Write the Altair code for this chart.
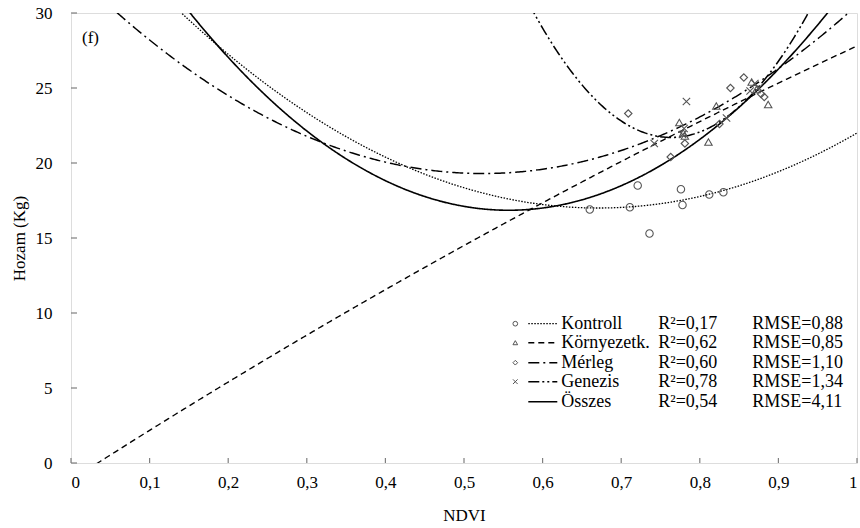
import altair as alt
import pandas as pd
import numpy as np

# ---------------- data ----------------
series = ["Kontroll", "Környezetk.", "Mérleg", "Genezis", "Összes"]
r2_labels = ["R²=0,17", "R²=0,62", "R²=0,60", "R²=0,78", "R²=0,54"]
rmse_labels = ["RMSE=0,88", "RMSE=0,85", "RMSE=1,10", "RMSE=1,34", "RMSE=4,11"]

# fitted quadratic trend lines: Hozam = c0 + c1*NDVI + c2*NDVI^2
coef_c0 = [37.80, -1.137, 32.89, 180.61, 41.67]
coef_c1 = [-62.00, 33.60, -51.876, -416.26, -89.12]
coef_c2 = [46.2, -4.66, 49.5, 272.6, 80.0]

kontroll_ndvi = [0.660, 0.711, 0.721, 0.736, 0.776, 0.778, 0.812, 0.830]
kontroll_hozam = [16.9, 17.05, 18.5, 15.3, 18.25, 17.2, 17.9, 18.05]

kornyezetk_ndvi = [0.774, 0.779, 0.781, 0.811, 0.821, 0.866, 0.872, 0.887]
kornyezetk_hozam = [22.7, 22.0, 21.8, 21.4, 23.8, 25.4, 24.9, 23.9]

merleg_ndvi = [0.709, 0.763, 0.781, 0.825, 0.839, 0.856, 0.878, 0.882]
merleg_hozam = [23.3, 20.4, 21.3, 22.6, 25.0, 25.7, 24.6, 24.4]

genezis_ndvi = [0.742, 0.778, 0.780, 0.783, 0.834, 0.864, 0.870, 0.875]
genezis_hozam = [21.3, 21.9, 22.3, 24.1, 23.0, 24.8, 25.3, 25.0]

x_ticks = [0, 0.1, 0.2, 0.3, 0.4, 0.5, 0.6, 0.7, 0.8, 0.9, 1]
y_ticks = [0, 5, 10, 15, 20, 25, 30]
panel_label = "(f)"

# ---------------- tables ----------------
grid = np.linspace(0, 1, 501)
curve_rows = []
for s, c0, c1, c2 in zip(series, coef_c0, coef_c1, coef_c2):
    for g in grid:
        curve_rows.append({"series": s, "ndvi": g, "hozam": c0 + c1 * g + c2 * g * g})
curves = pd.DataFrame(curve_rows)

pts = pd.concat([
    pd.DataFrame({"series": "Kontroll", "ndvi": kontroll_ndvi, "hozam": kontroll_hozam}),
    pd.DataFrame({"series": "Környezetk.", "ndvi": kornyezetk_ndvi, "hozam": kornyezetk_hozam}),
    pd.DataFrame({"series": "Mérleg", "ndvi": merleg_ndvi, "hozam": merleg_hozam}),
    pd.DataFrame({"series": "Genezis", "ndvi": genezis_ndvi, "hozam": genezis_hozam}),
], ignore_index=True)

# ---------------- layout ----------------
W, H = 786, 450
FONT = "'Liberation Serif', 'Times New Roman', 'DejaVu Serif', serif"
def px_x(px):
    return (px - 70.7) / W
def px_y(py):
    return (463.3 - py) / (H / 30.0)

leg_rows_px = [324, 343, 363, 382, 402]
leg = pd.DataFrame({
    "series": series,
    "r2": r2_labels,
    "rmse": rmse_labels,
})
leg["y"] = [px_y(p) for p in leg_rows_px]
leg["xm"] = px_x(515)
leg["x1"] = px_x(528)
leg["x2"] = px_x(557)
leg["xn"] = px_x(561)
leg["xr"] = px_x(658)
leg["xe"] = px_x(752)
leg_marks = leg[leg["series"] != "Összes"]

dash_scale = alt.Scale(domain=series,
                       range=[[1.5, 1.5], [6, 4], [11, 4, 2, 4], [11, 3, 2, 3, 2, 3], [1, 0]])
width_scale = alt.Scale(domain=series, range=[1.3, 1.6, 1.6, 1.6, 1.7])
leg_width_scale = alt.Scale(domain=series, range=[1.3, 2.2, 2.2, 2.2, 2.6])
shape_scale = alt.Scale(domain=series[:4],
                        range=["circle", "triangle-up", "diamond", "M-1,-1L1,1M-1,1L1,-1"])

xs = alt.Scale(domain=[0, 1], nice=False, zero=False)
ys = alt.Scale(domain=[0, 30], nice=False, zero=False)

x_axis = alt.Axis(values=x_ticks, ticks=False, domain=False, grid=False,
                  labelExpr="replace(format(datum.value, '.1~f'), '.', ',')",
                  labelPadding=11, labelFontSize=17, labelFont=FONT, labelColor="black",
                  title="NDVI", titleFont=FONT, titleFontSize=17, titleFontWeight="normal",
                  titleColor="black", titleY=52, titleBaseline="middle")
y_axis = alt.Axis(values=y_ticks, ticks=False, domain=False, grid=False,
                  labelPadding=19, labelFontSize=17, labelFont=FONT, labelColor="black",
                  title="Hozam (Kg)", titleFont=FONT, titleFontSize=17, titleFontWeight="normal",
                  titleColor="black", titleX=-52, titleY=H / 2, titleBaseline="middle",
                  titleAlign="center")

lines = alt.Chart(curves).mark_line(clip=True, color="black").encode(
    x=alt.X("ndvi:Q", scale=xs, axis=x_axis),
    y=alt.Y("hozam:Q", scale=ys, axis=y_axis),
    strokeDash=alt.StrokeDash("series:N", scale=dash_scale, legend=None),
    strokeWidth=alt.StrokeWidth("series:N", scale=width_scale, legend=None),
    detail="series:N",
)

points = alt.Chart(pts).mark_point(filled=False, color="#555555", size=55, strokeWidth=1.1,
                                   opacity=1).encode(
    x="ndvi:Q",
    y="hozam:Q",
    shape=alt.Shape("series:N", scale=shape_scale, legend=None),
)

xtick_df = pd.DataFrame({"v": x_ticks})
ytick_df = pd.DataFrame({"v": y_ticks})
xticks = alt.Chart(xtick_df).mark_rule(color="#7f7f7f", strokeWidth=1.2).encode(
    x="v:Q", y=alt.value(H), y2=alt.value(H - 5))
yticks = alt.Chart(ytick_df).mark_rule(color="#7f7f7f", strokeWidth=1.2).encode(
    y="v:Q", x=alt.value(0), x2=alt.value(6))

leg_pts = alt.Chart(leg_marks).mark_point(filled=False, color="#555555", size=22,
                                          strokeWidth=1, opacity=1).encode(
    x="xm:Q", y="y:Q",
    shape=alt.Shape("series:N", scale=shape_scale, legend=None),
)
leg_lines = alt.Chart(leg).mark_rule(color="black").encode(
    x="x1:Q", x2="x2:Q", y="y:Q",
    strokeDash=alt.StrokeDash("series:N", scale=dash_scale, legend=None),
    strokeWidth=alt.StrokeWidth("series:N", scale=leg_width_scale, legend=None),
)
txt_kw = dict(align="left", baseline="middle", font=FONT, fontSize=18, color="black")
leg_names = alt.Chart(leg).mark_text(**txt_kw).encode(x="xn:Q", y="y:Q", text="series:N")
leg_r2 = alt.Chart(leg).mark_text(**txt_kw).encode(x="xr:Q", y="y:Q", text="r2:N")
leg_rmse = alt.Chart(leg).mark_text(**txt_kw).encode(x="xe:Q", y="y:Q", text="rmse:N")

label = alt.Chart(pd.DataFrame({"t": [panel_label]})).mark_text(
    align="left", baseline="middle", font=FONT, fontSize=17, color="black").encode(
    text="t:N", x=alt.value(11), y=alt.value(25))

chart = alt.layer(
    lines, points, xticks, yticks, leg_lines, leg_pts, leg_names, leg_r2, leg_rmse, label
).properties(
    width=W, height=H,
    autosize=alt.AutoSizeParams(type="none"),
    padding={"left": 71, "top": 13, "right": 3, "bottom": 65},
).configure_view(stroke="#808080", strokeWidth=1.5).configure(background="white")

chart.save("out.html", embed_options={"renderer": "svg", "actions": False})
